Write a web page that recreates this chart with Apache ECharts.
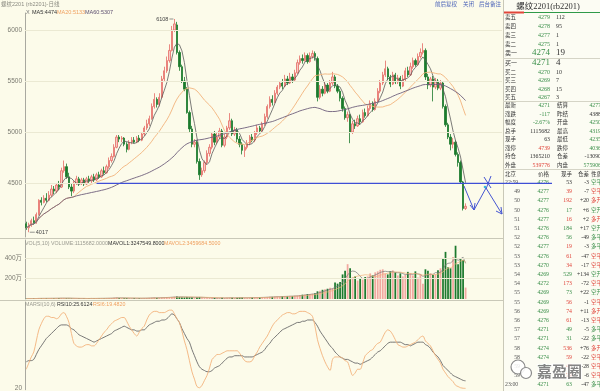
<!DOCTYPE html>
<html><head><meta charset="utf-8">
<script src="https://cdn.jsdelivr.net/npm/echarts@6/dist/echarts.min.js"></script>
<style>html,body{margin:0;padding:0;background:#fcfbea;}#c{width:600px;height:391px;}</style>
</head><body><div id="c"></div><script>
// ---- daily K-line of rb2201 ----
const openP = [4100,4060,4090,4130,4110,4190,4330,4310,4350,4330,4380,4440,4420,4480,4460,4620,4660,4560,4460,4420,
 4500,4540,4500,4530,4490,4540,4520,4560,4530,4580,
 4560,4620,4600,4660,4720,4760,4850,4950,4930,4940,4880,4830,4900,4920,4900,4940,4920,
 4980,5040,5080,5130,5250,5320,5270,5340,5520,5600,5700,5800,6000,
 6050,5780,5640,5500,5420,5190,5030,4880,4900,4710,4580,
 4620,4700,4790,4850,4980,4900,4950,5010,4870,4950,5040,5110,4980,5020,4930,4880,4820,4850,
 4890,4950,4920,4990,5040,5010,5080,5150,5250,5320,5290,5380,5440,5480,5450,5520,5480,5540,5510,5580,5680,5720,5700,5750,5690,5740,5770,5720,
 5340,5420,5380,5460,5400,5480,5540,5450,5400,5330,5230,5140,5170,
 5000,5080,5060,5130,5100,5190,5160,5230,5280,5220,5300,5400,5480,5560,5620,5540,5470,5560,5490,5530,5450,5520,5600,5560,5640,5700,5660,5740,5780,
 5800,5540,5460,5520,5440,5500,5430,5480,5250,5070,4950,4880,4900,4780,4700,4510,4250];
const closeP = [4060,4090,4130,4110,4190,4330,4310,4350,4330,4380,4440,4420,4480,4460,4620,4660,4560,4460,4420,4500,
 4540,4500,4530,4490,4540,4520,4560,4530,4580,4560,
 4620,4600,4660,4720,4760,4850,4950,4930,4940,4880,4830,4900,4920,4900,4940,4920,4980,
 5040,5080,5130,5250,5320,5270,5340,5520,5600,5700,5800,6000,6060,
 5780,5640,5500,5420,5190,5030,4880,4900,4710,4580,4620,
 4700,4790,4850,4980,4900,4950,5010,4870,4950,5040,5110,4980,5020,4930,4880,4820,4850,4890,
 4950,4920,4990,5040,5010,5080,5150,5250,5320,5290,5380,5440,5480,5450,5520,5480,5540,5510,5580,5680,5720,5700,5750,5690,5740,5770,5740,5340,
 5420,5380,5460,5400,5480,5540,5450,5400,5330,5230,5140,5170,5000,
 5080,5060,5130,5100,5190,5160,5230,5280,5220,5300,5400,5480,5560,5620,5540,5470,5560,5490,5530,5450,5520,5600,5560,5640,5700,5660,5740,5780,5800,
 5540,5460,5520,5440,5500,5430,5480,5250,5070,4950,4880,4900,4780,4700,4510,4250,4271];
const lowP = [4040,4017,4070,4090,4100,4180,4280,4300,4310,4320,4360,4390,4400,4430,4450,4600,4540,4440,4370,4400,
 4480,4470,4480,4470,4480,4500,4500,4510,4520,4540,
 4550,4580,4590,4640,4700,4750,4840,4900,4900,4860,4800,4820,4880,4890,4890,4900,4910,
 4960,5020,5060,5120,5230,5240,5250,5330,5500,5580,5680,5790,5980,
 5760,5600,5480,5400,5180,5000,4850,4850,4690,4530,4560,
 4600,4680,4760,4830,4870,4880,4930,4850,4850,4930,5020,4960,4960,4900,4850,4780,4755,4830,
 4870,4900,4900,4970,4990,5000,5060,5130,5230,5260,5280,5360,5420,5420,5440,5460,5470,5480,5500,5570,5660,5670,5690,5670,5680,5720,5700,5300,
 5320,5350,5370,5380,5390,5460,5430,5380,5300,5200,5120,5100,4890,
 4980,5030,5050,5070,5090,5140,5150,5210,5200,5210,5290,5380,5460,5540,5510,5440,5460,5470,5470,5420,5440,5500,5540,5550,5620,5640,5650,5720,5760,
 5510,5420,5440,5300,5420,5410,5410,5230,5050,4930,4820,4840,4760,4660,4490,4230,4235];
const highP = [4120,4110,4150,4170,4210,4340,4360,4380,4400,4420,4480,4470,4500,4520,4650,4720,4690,4600,4490,4520,
 4570,4560,4550,4550,4560,4570,4580,4590,4600,4610,
 4640,4660,4680,4750,4790,4880,4970,4970,4960,4950,4900,4920,4950,4950,4960,4970,5000,
 5060,5120,5160,5280,5380,5340,5380,5550,5640,5740,5860,6040,6108,
 6080,5800,5660,5540,5440,5210,5060,4930,4920,4740,4650,
 4720,4820,4880,5000,5010,4990,5040,5030,4980,5060,5185,5130,5050,5040,4960,4900,4870,4920,
 4970,4980,5010,5070,5060,5100,5180,5270,5350,5360,5410,5460,5500,5520,5560,5550,5580,5570,5610,5710,5750,5760,5780,5770,5780,5800,5790,5740,
 5460,5450,5490,5480,5510,5590,5560,5470,5420,5350,5250,5200,5180,
 5110,5120,5160,5170,5220,5230,5260,5310,5300,5330,5430,5510,5590,5700,5640,5560,5590,5580,5560,5550,5560,5630,5640,5680,5730,5720,5770,5820,5870,
 5820,5570,5540,5550,5530,5520,5510,5500,5270,5090,4980,4940,4920,4800,4720,4520,4300];
// volume in 万手
const volume = [3,5,4,6,5,8,6,5,7,6,8,7,6,9,10,8,7,6,5,6,
 5,4,5,6,4,5,6,5,7,6,7,6,8,9,10,12,14,10,9,8,
 9,8,7,8,6,7,8,9,10,11,12,14,11,12,15,16,18,17,20,22,
 24,20,18,16,19,17,18,14,16,19,15,12,11,10,12,11,10,9,11,10,
 12,13,11,10,12,13,14,12,11,13,14,15,16,15,17,18,20,22,21,24,
 25,23,26,27,28,30,29,31,33,38,42,45,48,50,52,55,75,80,90,95,
 100,110,105,160,150,165,240,275,340,300,210,220,180,200,190,215,220,250,230,260,
 270,285,290,250,240,270,280,260,230,250,220,235,265,250,230,270,210,240,150,290,
 275,250,235,240,280,300,390,460,310,300,410,520,340,390,380,111.57];
// RSI lines
const rsi10 = [41,42,42,43,47,51,54,57,60,62, 64,66,68,70,71,71,71,70,68,67,
 65,63,62,61,60,59,58,57,58,59, 60,61,62,63,64,66,67,68,69,70,
 69,68,67,67,66,66,67,67,69,71, 72,73,74,74,75,75,76,78,80,79,
 76,73,68,64,60,57,51,46,41,37, 35,34,33,33,34,36,37,38,40,42,
 44,45,45,46,46,46,46,45,45,45, 45,46,47,48,49,51,54,56,59,61,
 63,65,67,68,69,70,71,72,73,73, 74,74,75,75,75,73,70,66,63,60,
 57,54,52,49,47,45,44,43,43,42, 41,40,40,39,40,41,42,43,45,47,
 49,50,52,54,56,57,57,57,57,57, 56,55,55,54,55,56,57,57,57,55,
 54,52,49,47,45,42,38,36,34,32, 30,29,28,27,26,25.6124];
const rsi6 = [35,40,45,49,58,67,72,76,78,78, 77,77,76,77,80,81,78,73,64,56,
 54,53,53,54,55,55,54,54,56,59, 62,65,67,70,72,74,75,76,77,77,
 74,70,67,64,62,65,68,70,75,79, 81,82,82,81,81,81,82,83,83,80,
 76,73,66,58,51,42,33,27,21,20, 22,26,30,36,43,45,47,47,48,49,
 50,50,50,50,50,48,45,42,41,41, 42,46,49,53,56,59,62,66,70,73,
 75,77,79,80,81,81,80,80,81,82, 82,82,81,80,78,70,59,52,46,41,
 37,34,43,45,45,45,44,42,41,35, 30,32,35,35,40,46,48,50,51,54,
 56,57,61,65,67,66,63,59,55,54, 53,53,54,55,56,57,59,61,62,58,
 56,54,50,46,43,40,35,32,29,27, 25,22,21,20,19.6,19.482];
const priceTicks = [4500,5000,5500,6000];
const volTicks = [200,400];
const rsiTicks = [20];
const supportLevel = 4495;     // hand-drawn blue line
const supportStartIdx = 28;
const emptySlots = 14;         // blank room right of last candle

// ---- derived series ----
function movingAvg(a,n){return a.map((_,i)=>{const s=Math.max(0,i-n+1);let t=0;for(let k=s;k<=i;k++)t+=a[k];return +(t/(i-s+1)).toFixed(2);});}
const cats = closeP.map((_,i)=>'d'+i);
for(let k=0;k<emptySlots;k++)cats.push('p'+k);
const candle = closeP.map((c,i)=>[openP[i],c,lowP[i],highP[i]]);
const volData = volume.map((v,i)=>({value:v,itemStyle:{color:closeP[i]>=openP[i]?'#f2a8a0':'#1d7a2e'}}));
const ma5=movingAvg(closeP,5), ma20=movingAvg(closeP,20), ma60=movingAvg(closeP,60);
const mv5=movingAvg(volume,5), mv10=movingAvg(volume,10);

const chart = echarts.init(document.getElementById('c'));
const F = '"Liberation Sans","Noto Sans CJK SC",sans-serif';
const gridLine = (vals)=>({silent:true,symbol:'none',label:{show:false},animation:false,
  lineStyle:{color:'#ebe9d3',width:1,type:'solid'},data:vals.map(v=>({yAxis:v}))});
const xa = (g)=>({type:'category',gridIndex:g,data:cats,boundaryGap:true,axisLine:{show:false},axisTick:{show:false},axisLabel:{show:false},splitLine:{show:false}});
const ya = (g,min,max,vals,suffix)=>({type:'value',gridIndex:g,min,max,splitLine:{show:false},
  axisLine:{show:true,lineStyle:{color:'#a9a9a0',width:1}},axisTick:{show:false},
  axisLabel:{customValues:vals,fontSize:6.5,color:'#7a7a70',fontFamily:F,margin:3,hideOverlap:false,formatter:(v)=>String(v)+(suffix||'')}});
chart.setOption({
  animation:false,
  backgroundColor:'#fcfbea',
  grid:[{left:25,top:13,width:477,height:224},{left:25,top:240,width:477,height:59},{left:25,top:302,width:477,height:89}],
  xAxis:[xa(0),xa(1),xa(2)],
  yAxis:[ya(0,3970,6167,priceTicks),ya(1,0,576,volTicks,'万'),ya(2,18.4,89.6,rsiTicks)],
  series:[
    {type:'candlestick',xAxisIndex:0,yAxisIndex:0,data:candle,barWidth:'72%',
     itemStyle:{color:'#f7c9c3',color0:'#1b7a2c',borderColor:'#e46b64',borderColor0:'#1b7a2c',borderWidth:0.8},
     markLine:gridLine(priceTicks),z:3},
    {type:'line',xAxisIndex:0,yAxisIndex:0,data:ma5,showSymbol:false,lineStyle:{color:'#5a5a5a',width:0.8},z:4},
    {type:'line',xAxisIndex:0,yAxisIndex:0,data:ma20,showSymbol:false,lineStyle:{color:'#f2b27a',width:0.9},z:4},
    {type:'line',xAxisIndex:0,yAxisIndex:0,data:ma60,showSymbol:false,lineStyle:{color:'#6e5f7c',width:0.9},z:4},
    {type:'bar',xAxisIndex:1,yAxisIndex:1,data:volData,barWidth:'70%',markLine:gridLine(volTicks)},
    {type:'line',xAxisIndex:1,yAxisIndex:1,data:mv5,showSymbol:false,lineStyle:{color:'#777',width:0.7}},
    {type:'line',xAxisIndex:1,yAxisIndex:1,data:mv10,showSymbol:false,lineStyle:{color:'#f2b27a',width:0.7}},
    {type:'line',xAxisIndex:2,yAxisIndex:2,data:rsi10,showSymbol:false,smooth:0.3,lineStyle:{color:'#6a6a6a',width:0.9}},
    {type:'line',xAxisIndex:2,yAxisIndex:2,data:rsi6,showSymbol:false,smooth:0.3,lineStyle:{color:'#f3b27c',width:0.9}}
  ]
});

// ---- annotations & side panel ----
const px=(i,v)=>chart.convertToPixel({gridIndex:0},[i,v]);
const G=[];
const T=(x,y,text,fill,size,align,fam,weight)=>G.push({type:'text',x,y,silent:true,z:20,
  style:{text,fill:fill||'#333',font:(weight||'normal')+' '+(size||6)+'px '+(fam||F),textAlign:align||'left',textVerticalAlign:'middle'}});
const L=(pts,stroke,w,z)=>G.push({type:'polyline',silent:true,z:z||15,shape:{points:pts},style:{stroke,lineWidth:w||1,fill:null}});

// separators
L([[0,238.5],[503,238.5]],'#c9c8b8',1);
L([[0,300.5],[503,300.5]],'#c9c8b8',1);
// right panel
G.push({type:'rect',z:10,silent:true,shape:{x:503,y:0,width:97,height:391},style:{fill:'#fcfcf3'}});
L([[503.5,0],[503.5,391]],'#c9c8b8',1,16);
// title bar
T(1,4,'螺纹2201 (rb2201)-日线','#8a8a80',5.5);
T(435,4,'前后复权','#4a62b8',5.5);
T(463,4,'关闭','#4a62b8',5.5);
T(479,4,'后台备注','#4a62b8',5.5);
// legends
T(26,12.5,'X','#777',5.5);
T(32,12.5,'MA5:4474','#333',5.5);
T(57,12.5,'MA20:5133','#f0a060',5.5);
T(85,12.5,'MA60:5307','#5d4f70',5.5);
T(25,244,'VOL(5,10) VOLUME:1115682.0000','#9a9a90',5.3);
T(108,244,'MAVOL1:3247549.8000','#333',5.3);
T(164,244,'MAVOL2:3459684.5000','#f0a060',5.3);
T(25,305,'MARSI(10,6)','#9a9a90',5.3);
T(57,305,'RSI10:25.6124','#333',5.3);
T(93,305,'RSI6:19.4820','#f0a060',5.3);
// extreme labels
const pk=px(59,6108); L([[pk[0]-5,pk[1]],[pk[0]-1,pk[1]]],'#666',0.7); T(pk[0]-6,pk[1],'6108','#444',5.5,'right');
const pl=px(1,4017); L([[pl[0]+1,pl[1]],[pl[0]+6,pl[1]]],'#666',0.7); T(pl[0]+7,pl[1],'4017','#444',5.5);
// hand-drawn support line + arrows
const ps=px(supportStartIdx,supportLevel);
L([[ps[0],ps[1]],[552,ps[1]]],'#3f4fd6',1.3,30);
const blue='#4656d2';
L([[464,186],[474,210]],blue,1,30); L([[470,205],[474,210],[475,203]],blue,1,30);
L([[474,210],[486,188],[502,214]],blue,1,30); L([[496,211],[502,214],[501,207]],blue,1,30);
L([[484,177],[491,188]],blue,1,30); L([[491,176],[486,189]],blue,1,30);
G.push({type:'circle',z:31,silent:true,shape:{cx:485,cy:187,r:1.3},style:{fill:'#38b6d8'}});

// right panel header
T(548,6.5,'螺纹2201(rb2201)','#333',8.5,'center','"Liberation Serif","Noto Sans CJK SC",serif');
L([[504,12.5],[524,12.5]],'#e0463a',2,17);
L([[524,12.5],[600,12.5]],'#2f9a48',1,17);
const SF='"Liberation Serif","Noto Sans CJK SC",serif';
const GR='#3b8f4a', RD='#e0443a', DK='#333';
const askRows=[['卖五','4279','112'],['卖四','4278','95'],['卖三','4277','1'],['卖二','4275','1']];
const askY=[17,26,35,44];
askRows.forEach((r,k)=>{T(505,askY[k],r[0],DK,5.5);T(550,askY[k],r[1],GR,6,'right',SF);T(556,askY[k],r[2],DK,6,'left',SF);});
T(505,53,'卖一',DK,6);T(550,52.5,'4274',GR,9,'right',SF);T(556,52.5,'19',DK,9,'left',SF);
L([[503,58.5],[600,58.5]],'#d5d4c6',1,17);
T(505,63,'买一',DK,6);T(550,62.5,'4271',GR,9,'right',SF);T(556,62.5,'4',DK,9,'left',SF);
const bidRows=[['买二','4270','10'],['买三','4269','7'],['买四','4268','15'],['买五','4267','3']];
const bidY=[72,80.5,89,97.5];
bidRows.forEach((r,k)=>{T(505,bidY[k],r[0],DK,5.5);T(550,bidY[k],r[1],GR,6,'right',SF);T(556,bidY[k],r[2],DK,6,'left',SF);});
L([[503,101.5],[600,101.5]],'#d5d4c6',1,17);
const stats=[['最新','4271',GR,'结算','4277',GR],['涨跌','-117',GR,'昨结','4388',DK],['幅度','-2.67%',GR,'开盘','4250',GR],
 ['总手','1115682',DK,'最高','4319',GR],['现手','63',DK,'最低','4235',GR],['涨停','4739',RD,'跌停','4036',GR],
 ['持仓','1365210',DK,'仓差','-13090',DK],['外盘','539776',RD,'内盘','575906',GR]];
stats.forEach((r,k)=>{const y=105.5+k*8.5;T(505,y,r[0],DK,5.5);T(550,y,r[1],r[2],5.8,'right',SF);T(557,y,r[3],DK,5.5);T(601,y,r[4],r[5],5.8,'right',SF);});
L([[503,169.5],[600,169.5]],'#d5d4c6',1,17);
T(505,174,'北京',DK,5.5);T(549,174,'价格',DK,5.5,'right');T(572,174,'现手',DK,5.5,'right');T(589,174,'仓差',DK,5.5,'right');T(591,174,'性质',DK,5.5);
const trades=[['22:59','4276','53',DK,'-3','空平',GR],['49','4277','39',RD,'-7','空平',RD],['50','4277','192',RD,'+20','多开',RD],
 ['50','4276','17',GR,'+6','空开',GR],['51','4277','16',RD,'+2','多开',RD],['51','4276','184',GR,'+17','空开',GR],
 ['52','4276','56',GR,'-49','多平',GR],['52','4277','19',RD,'-3','多平',GR],['53','4276','61',RD,'-47','空平',RD],
 ['53','4270','34',RD,'-17','空平',RD],['54','4269','529',GR,'+134','空开',GR],['54','4272','173',RD,'-72','空平',RD],
 ['55','4269','73',GR,'+22','空开',GR],['55','4269','56',RD,'-1','空平',RD],['56','4269','74',RD,'+11','多开',RD],
 ['56','4276','61',RD,'-13','空平',RD],['57','4271','49',GR,'-5','多平',GR],['57','4271','31',GR,'-22','多平',GR],
 ['58','4274','536',RD,'+76','多开',RD],['58','4274','59',RD,'-22','空平',RD],['59','4274','47',RD,'-28','空平',RD],
 ['59','4277','29',RD,'-6','空平',RD],['23:00','4271','63',GR,'-47','多平',GR]];
trades.forEach((r,k)=>{const y=182.5+k*9.2;
  if(r[0].indexOf(':')>0)T(505,y,r[0],'#555',5.8,'left',SF);else T(520,y,r[0],'#555',5.8,'right',SF);
  T(549,y,r[1],GR,5.8,'right',SF);T(572,y,r[2],r[3],5.8,'right',SF);T(589,y,r[4],DK,5.8,'right',SF);T(591,y,r[5],r[6],5.5);});
// watermark
G.push({type:'circle',z:40,silent:true,shape:{cx:518,cy:367,r:7},style:{fill:'rgba(255,255,255,0.85)',stroke:'#8a8a8a',lineWidth:1.2}});
G.push({type:'circle',z:41,silent:true,shape:{cx:526,cy:373,r:5.5},style:{fill:'rgba(255,255,255,0.9)',stroke:'#8a8a8a',lineWidth:1.2}});
G.push({type:'text',x:537,y:371,z:42,silent:true,style:{text:'嘉盈圈',fill:'rgba(110,110,110,0.85)',font:'bold 15px "Noto Sans CJK SC"',textVerticalAlign:'middle',stroke:'rgba(255,255,255,0.8)',lineWidth:2}});
chart.setOption({graphic:G});
</script></body></html>
